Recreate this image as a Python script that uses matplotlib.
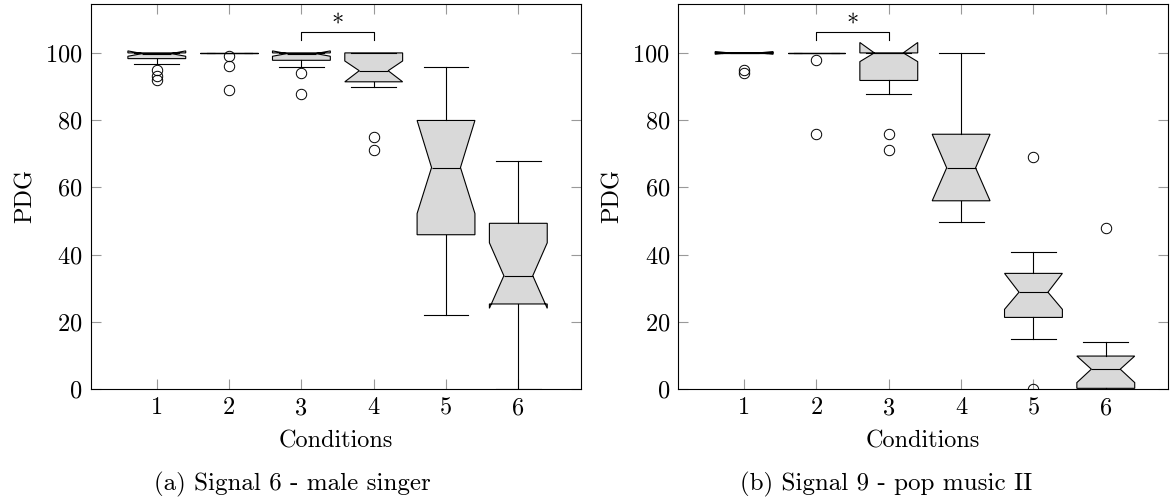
import numpy as np
import matplotlib.pyplot as plt

plt.rcParams['font.family'] = 'cmr10'
plt.rcParams['mathtext.fontset'] = 'cm'
plt.rcParams['axes.formatter.use_mathtext'] = True

conditions = [1, 2, 3, 4, 5, 6]

# (a) Signal 6 - male singer
a_med = [99.8, 100, 99.8, 94.7, 65.9, 33.7]
a_q1 = [98.3, 100, 97.8, 91.4, 45.9, 25.3]
a_q3 = [100, 100, 100, 100, 79.9, 49.3]
a_cilo = [99.0, 100, 99.0, 91.4, 52.2, 24.0]
a_cihi = [100.6, 100, 100.6, 97.6, 79.9, 43.5]
a_whislo = [96.8, 100, 95.8, 89.8, 21.9, 0]
a_whishi = [100, 100, 100, 100, 95.8, 67.9]
a_fliers = [[95, 93.2, 92], [99, 96, 89], [94, 87.8], [75, 71], [], []]

# (b) Signal 9 - pop music II
b_med = [100, 100, 100, 65.8, 28.8, 5.9]
b_q1 = [100, 100, 91.8, 56, 21.3, 0.2]
b_q3 = [100, 100, 100, 75.8, 34.4, 9.8]
b_cilo = [99.6, 100, 97.4, 56, 23.7, 1.9]
b_cihi = [100.4, 100, 103.1, 75.8, 34.4, 9.8]
b_whislo = [100, 100, 87.8, 49.8, 14.9, 0]
b_whishi = [100, 100, 100, 100, 40.8, 13.9]
b_fliers = [[94.9, 94], [98, 76], [76, 71], [], [69, 0], [48]]

captions = ['(a) Signal 6 - male singer', '(b) Signal 9 - pop music II']
sig_pairs = [(3, 4), (2, 3)]


def make_stats(med, q1, q3, cilo, cihi, whislo, whishi, fliers):
    stats = []
    for i in range(len(med)):
        stats.append(dict(med=med[i], q1=q1[i], q3=q3[i], cilo=cilo[i], cihi=cihi[i],
                          whislo=whislo[i], whishi=whishi[i], fliers=fliers[i]))
    return stats


panels = [
    make_stats(a_med, a_q1, a_q3, a_cilo, a_cihi, a_whislo, a_whishi, a_fliers),
    make_stats(b_med, b_q1, b_q3, b_cilo, b_cihi, b_whislo, b_whishi, b_fliers),
]

fig = plt.figure(figsize=(11.71, 5), dpi=100)
W, H = 1171, 500
axes_px = [(91, 580.5), (678.3, 1168)]
caption_x = [292, 886]
fs = 17.5

for k, stats in enumerate(panels):
    x0, x1 = axes_px[k]
    ax = fig.add_axes([x0 / W, 1 - 389 / H, (x1 - x0) / W, (389 - 3.5) / H])
    ax.bxp(stats, positions=conditions, widths=0.8, capwidths=0.62, shownotches=True,
           patch_artist=True,
           boxprops=dict(facecolor='#d9d9d9', edgecolor='black', linewidth=0.8),
           medianprops=dict(color='black', linewidth=0.8),
           whiskerprops=dict(color='black', linewidth=0.8),
           capprops=dict(color='black', linewidth=0.8),
           flierprops=dict(marker='o', markerfacecolor='none', markeredgecolor='black',
                           markersize=7.5, markeredgewidth=0.7))
    ax.set_xlim(0.09, 6.86)
    ax.set_ylim(0, 114.7)
    ax.set_xticks(conditions)
    ax.set_xticklabels([str(c) for c in conditions])
    ax.set_yticks([0, 20, 40, 60, 80, 100])
    ax.tick_params(direction='in', length=7, width=0.8, color='#999999', labelsize=fs,
                   top=True, right=True, pad=6)
    for s in ax.spines.values():
        s.set_linewidth(0.8)
    ax.set_xlabel('Conditions', fontsize=fs, labelpad=8)
    ax.set_ylabel('PDG', fontsize=fs, labelpad=6)

    a, b = sig_pairs[k]
    ax.plot([a, a, b, b], [103.8, 106.2, 106.2, 103.8], color='black', linewidth=0.8)
    ax.text((a + b) / 2, 110.5, '$*$', ha='center', va='center', fontsize=fs)

    fig.text(caption_x[k] / W, 1 - 484 / H, captions[k], ha='center', va='center',
             fontsize=fs + 0.5)

fig.savefig('out.png', dpi=100)
